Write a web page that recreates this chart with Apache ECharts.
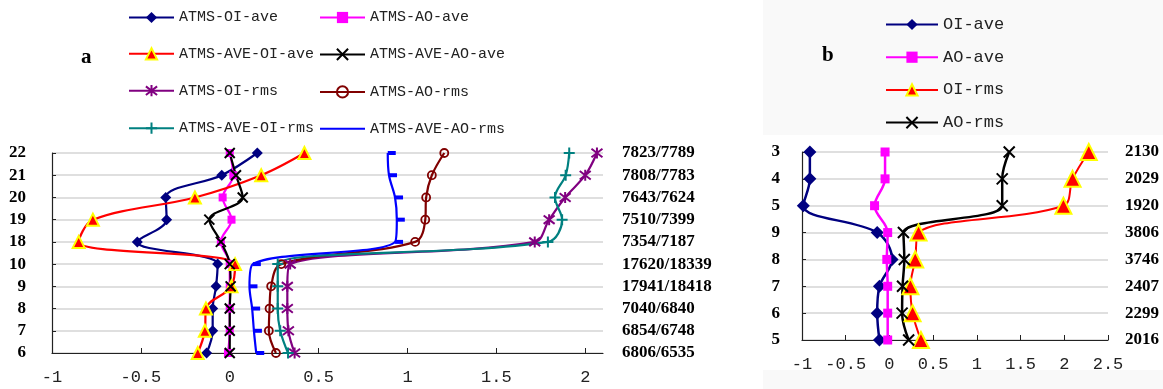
<!DOCTYPE html>
<html><head><meta charset="utf-8">
<script src="https://cdn.jsdelivr.net/npm/echarts@6/dist/echarts.min.js"></script>
<style>html,body{margin:0;padding:0;background:#fff}#c{width:1163px;height:389px}</style>
</head><body><div id="c"></div>
<script>
// ---------- Panel a ----------
const catsA = ['6','7','8','9','10','18','19','20','21','22'];
const rightA = ['6806/6535','6854/6748','7040/6840','17941/18418','17620/18339','7354/7187','7510/7399','7643/7624','7808/7783','7823/7789'];
const atmsOiAve    = [-0.13, -0.096, -0.096, -0.077, -0.068, -0.52, -0.355, -0.36, -0.045, 0.155];
const atmsAoAve    = [-0.01, 0, 0, 0, 0, -0.05, 0.01, -0.04, 0.02, 0];
const atmsAveOiAve = [-0.18, -0.14, -0.134, 0.01, 0.03, -0.85, -0.77, -0.196, 0.177, 0.42];
const atmsAveAoAve = [0, 0, 0, 0.005, 0, -0.05, -0.115, 0.073, 0.035, 0];
const atmsOiRms    = [0.365, 0.33, 0.324, 0.324, 0.34, 1.716, 1.797, 1.887, 2.0, 2.066];
const atmsAoRms    = [0.26, 0.22, 0.224, 0.233, 0.29, 1.043, 1.10, 1.105, 1.137, 1.207];
const atmsAveOiRms = [0.328, 0.284, 0.27, 0.27, 0.27, 1.79, 1.87, 1.83, 1.89, 1.91];
const atmsAveAoRms = [0.149, 0.136, 0.126, 0.111, 0.13, 0.93, 0.94, 0.93, 0.896, 0.889];
const ticksA = [-1, -0.5, 0, 0.5, 1, 1.5, 2];

// ---------- Panel b ----------
const catsB = ['5','6','7','8','9','5','4','3'];
const rightB = ['2016','2299','2407','3746','3806','1920','2029','2130'];
const oiAveB = [-0.114, -0.14, -0.114, 0.03, -0.14, -0.985, -0.91, -0.91];
const aoAveB = [-0.02, -0.02, -0.02, -0.03, -0.02, -0.17, -0.05, -0.05];
const oiRmsB = [0.36, 0.265, 0.24, 0.295, 0.333, 1.99, 2.095, 2.28];
const aoRmsB = [0.22, 0.145, 0.15, 0.17, 0.16, 1.29, 1.29, 1.37];
const ticksB = [-1, -0.5, 0, 0.5, 1, 1.5, 2, 2.5];

const X = 'path://M0,0 L10,10 M10,0 L0,10';
const AST = 'path://M0,0 L10,10 M10,0 L0,10 M5,-1.5 L5,11.5';
const PLUS = 'path://M5,0 L5,10 M0,5 L10,5';
const RING = 'path://M10,5 A5,5 0 1,1 0,5 A5,5 0 1,1 10,5 Z';
const mono = '"Liberation Mono", monospace';
const serif = '"Liberation Serif", "Times New Roman", serif';

function lineS(name, data, gi, color, sym, size, extra) {
  return Object.assign({
    name, type: 'line', data, xAxisIndex: gi, yAxisIndex: gi * 2,
    smooth: 0.35, symbol: sym, symbolSize: size, showSymbol: true,
    lineStyle: { color, width: 2.2, type: 'solid' }, itemStyle: { color },
    emphasis: { disabled: true }, animation: false
  }, extra || {});
}
const strokeSym = (c, w) => ({ itemStyle: { color: 'none', borderColor: c, borderWidth: w } });

function catAxis(data, gi, right, margin) {
  return {
    type: 'category', data, gridIndex: gi, boundaryGap: false,
    position: right ? 'right' : 'left',
    axisLine: { show: !right, onZero: false, lineStyle: { color: '#222', width: 1.2 } },
    axisTick: { show: !right, inside: true, length: 4, lineStyle: { color: '#222' } },
    splitLine: { show: !right, lineStyle: { color: '#d4d4d4', width: 1.5 } },
    axisLabel: { margin, color: '#000', fontFamily: serif, fontWeight: 'bold', fontSize: 17,
      align: right ? 'left' : 'right' }
  };
}
function valAxis(gi, min, max, ticks) {
  return {
    type: 'value', gridIndex: gi, min, max, interval: 0.5,
    axisLine: { show: true, onZero: false, lineStyle: { color: '#222', width: 1.2 } },
    axisTick: { show: true, inside: true, length: 5, customValues: ticks, lineStyle: { color: '#222' } },
    axisLabel: { customValues: ticks, margin: 16, color: '#222', fontFamily: mono, fontSize: 17,
      formatter: v => String(v) },
    splitLine: { show: false }
  };
}

const option = {
  backgroundColor: '#fff',
  animation: false,
  graphic: [
    { type: 'rect', shape: { x: 763, y: 0, width: 400, height: 389 }, style: { fill: '#f9f9f9' }, z: -10 },
    { type: 'rect', shape: { x: 763, y: 135, width: 400, height: 235 }, style: { fill: '#ffffff' }, z: -9 },
    { type: 'text', left: 81, top: 47, style: { text: 'a', font: 'bold 21px ' + serif, fill: '#000' } },
    { type: 'text', left: 822, top: 45, style: { text: 'b', font: 'bold 21px ' + serif, fill: '#000' } }
  ],
  grid: [
    { left: 52, top: 153, width: 551, height: 200, outerBoundsMode: 'none', containLabel: false },
    { left: 802, top: 152, width: 306, height: 188, outerBoundsMode: 'none', containLabel: false }
  ],
  xAxis: [valAxis(0, -1, 2.1, ticksA), valAxis(1, -1, 2.5, ticksB)],
  yAxis: [catAxis(catsA, 0, false, 26), catAxis(rightA, 0, true, 19),
          catAxis(catsB, 1, false, 22), catAxis(rightB, 1, true, 17)],
  legend: [
    { left: 128, top: 10, padding: 0, orient: 'vertical', itemWidth: 45, itemHeight: 14, itemGap: 21.3,
      textStyle: { fontFamily: mono, fontSize: 15, color: '#222' },
      data: ['ATMS-OI-ave', 'ATMS-AVE-OI-ave', 'ATMS-OI-rms', 'ATMS-AVE-OI-rms'] },
    { left: 319, top: 10, padding: 0, orient: 'vertical', itemWidth: 45, itemHeight: 14, itemGap: 21.3,
      textStyle: { fontFamily: mono, fontSize: 15, color: '#222' },
      data: ['ATMS-AO-ave', 'ATMS-AVE-AO-ave', 'ATMS-AO-rms',
             { name: 'ATMS-AVE-AO-rms', itemStyle: { opacity: 0 } }] },
    { left: 885, top: 16, padding: 0, orient: 'vertical', itemWidth: 52, itemHeight: 14, itemGap: 15.7,
      textStyle: { fontFamily: mono, fontSize: 17, color: '#222' },
      data: ['OI-ave', 'AO-ave', 'OI-rms', 'AO-rms'] }
  ],
  series: [
    lineS('ATMS-OI-ave', atmsOiAve, 0, '#000080', 'diamond', 11),
    lineS('ATMS-AO-ave', atmsAoAve, 0, '#ff00ff', 'rect', 8),
    lineS('ATMS-AVE-OI-ave', atmsAveOiAve, 0, '#ff0000', 'triangle', 12,
      { itemStyle: { color: '#ff0000', borderColor: '#ffff00', borderWidth: 2 } }),
    lineS('ATMS-AVE-AO-ave', atmsAveAoAve, 0, '#000000', X, 10, strokeSym('#000', 2)),
    lineS('ATMS-OI-rms', atmsOiRms, 0, '#800080', AST, 11, strokeSym('#800080', 2)),
    lineS('ATMS-AO-rms', atmsAoRms, 0, '#800000', RING, 8, strokeSym('#800000', 1.8)),
    lineS('ATMS-AVE-OI-rms', atmsAveOiRms, 0, '#008080', PLUS, 11, strokeSym('#008080', 2)),
    lineS('ATMS-AVE-AO-rms', atmsAveAoRms, 0, '#0000ff', 'rect', [8, 4], { symbolOffset: [4, 0] }),
    lineS('OI-ave', oiAveB, 1, '#000080', 'diamond', 13, { lineStyle: { color: '#000080', width: 2.5 } }),
    lineS('AO-ave', aoAveB, 1, '#ff00ff', 'rect', 9, { lineStyle: { color: '#ff00ff', width: 2.5 } }),
    lineS('OI-rms', oiRmsB, 1, '#ff0000', 'triangle', 16,
      { lineStyle: { color: '#ff0000', width: 2 }, itemStyle: { color: '#ff0000', borderColor: '#ffff00', borderWidth: 2 } }),
    lineS('AO-rms', aoRmsB, 1, '#000000', X, 11,
      { lineStyle: { color: '#000', width: 2.5 }, itemStyle: { color: 'none', borderColor: '#000', borderWidth: 2 } })
  ]
};
const chart = echarts.init(document.getElementById('c'), null, { renderer: 'canvas' });
chart.setOption(option);
</script></body></html>
